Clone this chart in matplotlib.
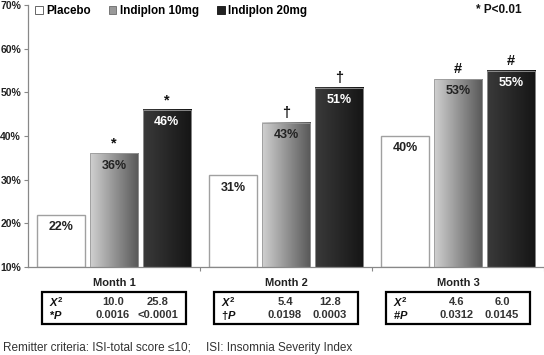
import matplotlib
matplotlib.use("Agg")
import matplotlib.pyplot as plt
import numpy as np
from matplotlib.patches import Patch, Rectangle
from matplotlib.transforms import blended_transform_factory

plt.rcParams['font.family'] = ['Liberation Sans', 'DejaVu Sans']
plt.rcParams['mathtext.fontset'] = 'custom'
plt.rcParams['mathtext.it'] = 'Liberation Sans:italic:bold'
plt.rcParams['mathtext.rm'] = 'Liberation Sans:bold'

months = ["Month 1", "Month 2", "Month 3"]
series = ["Placebo", "Indiplon 10mg", "Indiplon 20mg"]
placebo = [22, 31, 40]
indiplon10 = [36, 43, 53]
indiplon20 = [46, 51, 55]
sig_marks = ["*", "\u2020", "#"]
chi2_vals = [("10.0", "25.8"), ("5.4", "12.8"), ("4.6", "6.0")]
p_vals = [("0.0016", "<0.0001"), ("0.0198", "0.0003"), ("0.0312", "0.0145")]
yticks = [10, 20, 30, 40, 50, 60, 70]

fig = plt.figure(figsize=(5.44, 3.55), dpi=100)
ax = fig.add_axes([28 / 544, 88 / 355, 516 / 544, 262 / 355])

x = np.arange(len(months))
width = 0.28
offset = 0.307

# gradients: left colour -> right colour
grads = [None, ("#d0d0d0", "#585858"), ("#3a3a3a", "#151515")]


def hex2rgb(h):
    return np.array([int(h[i:i + 2], 16) / 255 for i in (1, 3, 5)])


all_vals = [placebo, indiplon10, indiplon20]
for k, vals in enumerate(all_vals):
    pos = x + (k - 1) * offset
    heights = [v - 10 for v in vals]
    if k == 0:
        bars = ax.bar(pos, heights, width, bottom=10, color="white",
                      edgecolor="#a0a0a0", lw=1.0, zorder=2)
    else:
        bars = ax.bar(pos, heights, width, bottom=10, color="none",
                      edgecolor="#9a9a9a", lw=0.6, zorder=3)
        c0, c1 = hex2rgb(grads[k][0]), hex2rgb(grads[k][1])
        t = np.linspace(0, 1, 64)[:, None]
        img = (c0[None, :] * (1 - t) + c1[None, :] * t)[None, :, :]
        for b in bars:
            ax.imshow(img, extent=(b.get_x(), b.get_x() + b.get_width(), 10, 10 + b.get_height()),
                      aspect="auto", zorder=2, interpolation="bilinear")

    for i, (b, v) in enumerate(zip(bars, vals)):
        cx = b.get_x() + b.get_width() / 2
        ax.annotate(f"{v}%", (cx, v), xytext=(0, -4.5),
                    textcoords="offset points", ha="center", va="top", fontsize=9,
                    fontweight="bold", color="white" if k == 2 else "#222222", zorder=4)
        if k > 0:
            ax.annotate(sig_marks[i], (cx, v), xytext=(0, 2), textcoords="offset points",
                        ha="center", va="bottom", fontsize=10.5, fontweight="bold",
                        color="#111111")

ax.set_xlim(-0.5, 2.5)
ax.set_ylim(10, 70)
ax.set_yticks(yticks)
ax.set_yticklabels([f"{t}%" for t in yticks], fontsize=7.5, fontweight="bold", color="#222222")
ax.set_xticks([0.5, 1.5, 2.5])
ax.set_xticklabels([])
ax.tick_params(axis="both", color="#888888", length=3, width=0.8, pad=2)
for s in ["top", "right"]:
    ax.spines[s].set_visible(False)
for s in ["left", "bottom"]:
    ax.spines[s].set_color("#888888")
    ax.spines[s].set_linewidth(0.9)

handles = [Patch(facecolor="white", edgecolor="#666666", lw=0.7),
           Patch(facecolor="#999999", edgecolor="#777777", lw=0.7),
           Patch(facecolor="#222222", edgecolor="#222222", lw=0.7)]
ax.legend(handles, series, ncol=3, loc="upper left", bbox_to_anchor=(0.0, 1.025),
          frameon=False, handlelength=0.65, handleheight=0.65, handletextpad=0.3,
          columnspacing=1.55, borderaxespad=0.2, prop={"weight": "bold", "size": 8.4})
fig.text(476 / 544, 1 - 10 / 355, "* P<0.01", fontsize=8.5, fontweight="bold",
         va="center", ha="left", color="#111111")

# tables under each month
tr = blended_transform_factory(ax.transData, fig.transFigure)
px = 3.0 / 516  # data units per pixel
for i, m in enumerate(months):
    fig.text(x[i], 1 - 283 / 355, m, transform=tr, ha="center", va="center",
             fontsize=8, fontweight="bold", color="#222222")
    box = Rectangle((x[i] - 72 * px, 1 - 324 / 355), 144 * px, 32 / 355,
                    transform=tr, fill=False, edgecolor="black", lw=1.6)
    fig.add_artist(box)
    y1, y2 = 1 - 302 / 355, 1 - 315 / 355
    fig.text(x[i] - 65 * px, y1, "$X^{2}$", transform=tr, ha="left", va="center",
             fontsize=8, color="#111111")
    fig.text(x[i] - 65 * px, y2, sig_marks[i] + "$P$", transform=tr, ha="left", va="center",
             fontsize=8, fontweight="bold", color="#111111")
    for j, (c, p) in enumerate(zip(chi2_vals[i], p_vals[i])):
        cx = x[i] + (-1 + 45 * j) * px
        fig.text(cx, y1, c, transform=tr, ha="center", va="center",
                 fontsize=8, fontweight="bold", color="#333333")
        fig.text(cx, y2, p, transform=tr, ha="center", va="center",
                 fontsize=8, fontweight="bold", color="#333333")

fig.text(3 / 544, 1 - 348 / 355, "Remitter criteria: ISI-total score \u226410;", fontsize=8.5,
         va="center", ha="left", color="#333333")
fig.text(206 / 544, 1 - 348 / 355, "ISI: Insomnia Severity Index", fontsize=8.5,
         va="center", ha="left", color="#333333")

fig.savefig("out.png", dpi=100)
